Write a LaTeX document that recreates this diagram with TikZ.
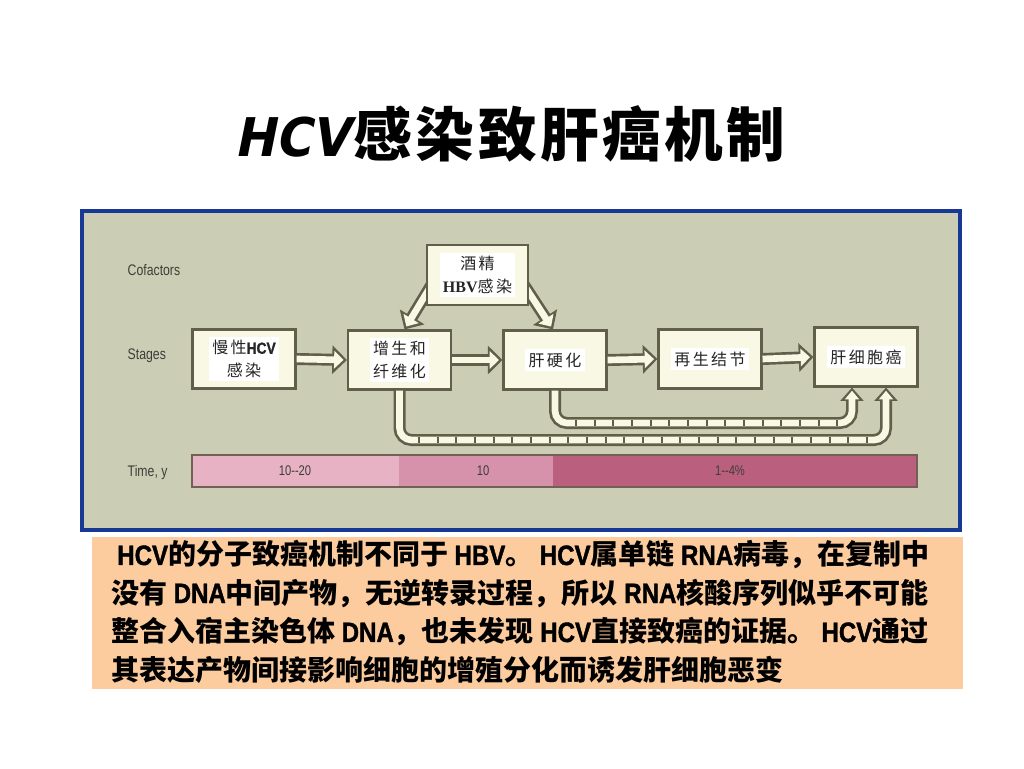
\documentclass[tikz,border=0pt]{standalone}
\usepackage{fontspec}
\setmainfont{Liberation Serif}
\newfontfamily\cjk{Noto Sans CJK SC}
\newfontfamily\boxcjk{Noto Sans CJK SC}[LetterSpace=15]
\newfontfamily\titlecjk{Noto Sans CJK SC}[LetterSpace=6]
\newfontfamily\narrow{Liberation Sans}[FakeStretch=0.8]
\newfontfamily\narrowbold{Liberation Sans}[FakeStretch=0.86, UprightFont={* Bold}, FakeBold=1.4]
\newfontfamily\titlelat{DejaVu Sans}[FakeSlant=0.2,FakeStretch=0.92]
\newcommand\latword[1]{{\narrowbold #1}}
\usetikzlibrary{arrows.meta,calc}
\definecolor{panelbg}{RGB}{203,206,181}
\definecolor{panelblue}{RGB}{24,56,150}
\definecolor{edge}{RGB}{96,96,74}
\definecolor{cream}{RGB}{248,248,228}
\definecolor{peach}{RGB}{252,204,158}
\definecolor{tone1}{RGB}{231,178,196}
\definecolor{tone2}{RGB}{214,146,170}
\definecolor{tone3}{RGB}{186,96,126}
\definecolor{inkgray}{RGB}{62,62,56}
\begin{document}
\begin{tikzpicture}[x=0.75pt,y=-0.75pt,
	stagebox/.style={draw=edge, line width=1.6pt, fill=cream, minimum width=77.25pt, minimum height=44.25pt, inner sep=0pt},
	stagetext/.style={fill=white, inner sep=2.5pt, align=center, text=black!85, font=\boxcjk\fontsize{12pt}{17pt}\selectfont},
	sidelabel/.style={anchor=west, text=inkgray, font=\narrow\fontsize{11.5pt}{13pt}\selectfont},
	barlabel/.style={text=inkgray, font=\narrow\fontsize{10.5pt}{12pt}\selectfont},
	noteline/.style={anchor=west, inner sep=0pt, font=\cjk\bfseries\fontsize{21pt}{25pt}\selectfont},
	hollow/.style={draw=cream, line width=5pt, shorten >=2.6pt, -{Triangle[length=7pt,width=13pt]},
		preaction={draw=edge, line width=9pt, shorten >=0pt, -{Triangle[length=11pt,width=21pt]}}},
	trackout/.style={draw=edge, line width=9pt, rounded corners=9pt, -{Triangle[length=10pt,width=17pt]}},
	trackin/.style={draw=cream, line width=5pt, rounded corners=9pt, shorten >=2.4pt, -{Triangle[length=6.5pt,width=10.5pt]}},
	ties/.style={draw=edge, line width=5pt, dash pattern=on 1.4pt off 12.6pt}]
	\useasboundingbox (0,0) rectangle (1024,768);
	\fill[white] (0,0) rectangle (1024,768);

	% title
	\node (title) at (510,134) {{\titlelat\bfseries\fontsize{40pt}{44pt}\selectfont HCV\kern3pt}{\titlecjk\bfseries\fontsize{44pt}{48pt}\selectfont 感染致肝癌机制}};

	% panel
	\draw[panelblue, line width=3pt, fill=panelbg] (82,211) rectangle (960,530);
	\node[sidelabel] (cof-label) at (123,270) {Cofactors};
	\node[sidelabel] (stage-label) at (123,356) {Stages};
	\node[sidelabel] (time-label) at (123,473) {Time, y};

	% time bar
	\fill[tone1] (192,455) rectangle (399,487);
	\fill[tone2] (399,455) rectangle (553,487);
	\fill[tone3] (553,455) rectangle (917,487);
	\draw[edge!80!tone3, line width=1.3pt] (192,455) rectangle (917,487);
	\node[barlabel] (t1) at (295,471) {10--20};
	\node[barlabel] (t2) at (483,471) {10};
	\node[barlabel] (t3) at (730,471) {1--4\%};

	% stages
	\node[stagebox] (chronic) at (244,359) {};
	\node[stagebox] (fibro) at (399.5,360) {};
	\node[stagebox] (cirrh) at (555,360) {};
	\node[stagebox] (nodule) at (710,359) {};
	\node[stagebox] (hcc) at (866,357) {};

	% cofactor arrows
	\coordinate (cof) at (477.5,275);
	\draw[hollow] ($(cof)+(-40,0)$) -- ($(fibro.north)+(5,0)$);
	\draw[hollow] ($(cof)+(40,0)$) -- ($(cirrh.north)+(-2,0)$);
	\node[stagebox, minimum width=75.75pt, minimum height=45pt] (cofbox) at (cof) {};

	% stage arrows
	\draw[hollow] (chronic.east) -- (fibro.west);
	\draw[hollow] (fibro.east) -- (cirrh.west);
	\draw[hollow] (cirrh.east) -- (nodule.west);
	\draw[hollow] (nodule.east) -- (hcc.west);

	% tracks to hcc
	\coordinate (dock1) at ($(hcc.south)+(-14,0)$);
	\coordinate (dock2) at ($(hcc.south)+(20,0)$);
	\coordinate (bend1) at (852,423);
	\coordinate (bend2) at (886,440);
	\draw[trackout] (cirrh.south) |- (bend1) -- (dock1);
	\draw[trackin] (cirrh.south) |- (bend1) -- (dock1);
	\draw[ties] (575,423) -- (838,423);
	\draw[trackout] (fibro.south) |- (bend2) -- (dock2);
	\draw[trackin] (fibro.south) |- (bend2) -- (dock2);
	\draw[ties] (418,440) -- (872,440);

	% stage texts
	\node[stagetext] (chronic-t) at (chronic) {慢性\latword{HCV}\\感染};
	\node[stagetext] (fibro-t) at (fibro) {增生和\\纤维化};
	\node[stagetext] (cirrh-t) at (cirrh) {肝硬化};
	\node[stagetext] (nodule-t) at (nodule) {再生结节};
	\node[stagetext] (hcc-t) at (hcc) {肝细胞癌};
	\node[stagetext] (cof-t) at (cofbox) {酒精\\{\rmfamily\bfseries HBV}感染};

	% note
	\fill[peach] (92,537) rectangle (963,689);
	\node[noteline] (note1) at (117,555) {\latword{HCV}的分子致癌机制不同于 \latword{HBV}。 \latword{HCV}属单链 \latword{RNA}病毒，在复制中};
	\node[noteline] (note2) at (111,593) {没有 \latword{DNA}中间产物，无逆转录过程，所以 \latword{RNA}核酸序列似乎不可能};
	\node[noteline] (note3) at (111,632) {整合入宿主染色体 \latword{DNA}，也未发现 \latword{HCV}直接致癌的证据。 \latword{HCV}通过};
	\node[noteline] (note4) at (111,670) {其表达产物间接影响细胞的增殖分化而诱发肝细胞恶变};
\end{tikzpicture}
\end{document}
